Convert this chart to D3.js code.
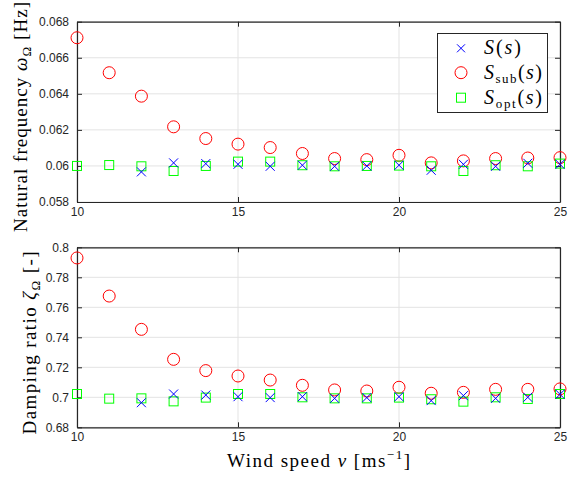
<!DOCTYPE html>
<html><head><meta charset="utf-8">
<script src="https://cdn.jsdelivr.net/npm/d3@7"></script>
<style>body{margin:0;background:#fff}svg{display:block}</style>
</head><body>
<svg id="c" width="585" height="481"></svg>
<script>
const windSpeed = [10,11,12,13,14,15,16,17,18,19,20,21,22,23,24,25];
const freqS    = [null,null,0.05967,0.06017,0.06013,0.06009,0.05998,0.06004,0.05998,0.0600,0.06004,0.05976,0.06009,0.05998,0.06015,0.06009];
const freqSub  = [0.06711,0.06517,0.06387,0.06217,0.06152,0.06121,0.06102,0.06069,0.06041,0.06035,0.06059,0.06017,0.06028,0.06041,0.06044,0.06046];
const freqOpt  = [0.0600,0.06005,0.05998,0.05972,0.0600,0.06024,0.06024,0.06004,0.05998,0.0600,0.06002,0.05998,0.05972,0.06004,0.05998,0.06013];
const dampS    = [null,null,0.6964,0.7022,0.7015,0.7004,0.6998,0.7004,0.6993,0.6998,0.7004,0.6978,0.7011,0.6993,0.7000,0.7020];
const dampSub  = [0.7929,0.7675,0.7453,0.7253,0.7178,0.7142,0.7115,0.7080,0.7049,0.7042,0.7067,0.7027,0.7033,0.7053,0.7053,0.7056];
const dampOpt  = [0.7022,0.6991,0.6993,0.6973,0.6998,0.7022,0.7022,0.7000,0.6993,0.6993,0.6998,0.6987,0.6971,0.7000,0.6989,0.7022];
const xTicks = [10,15,20,25];
const freqTicks = [0.058,0.06,0.062,0.064,0.066,0.068];
const dampTicks = [0.68,0.7,0.72,0.74,0.76,0.78,0.8];

const svg = d3.select("#c");
const L = 77, R = 560;
const x = d3.scaleLinear().domain([10,25]).range([L,R]);
const tickFont = "'Liberation Sans', Arial, sans-serif";
const serif = "'Liberation Serif', 'Times New Roman', serif";

function panel(top, bottom, domain, ticks, fmt, sets){
  const y = d3.scaleLinear().domain(domain).range([bottom, top]);
  const g = svg.append("g");
  g.selectAll(".gx").data(xTicks).join("line")
    .attr("x1", d=>x(d)).attr("x2", d=>x(d)).attr("y1", top).attr("y2", bottom)
    .attr("stroke", "#e3e3e3").attr("stroke-width", 1);
  g.selectAll(".gy").data(ticks).join("line")
    .attr("x1", L).attr("x2", R).attr("y1", d=>y(d)).attr("y2", d=>y(d))
    .attr("stroke", "#e3e3e3").attr("stroke-width", 1);
  const ax = g.append("g").attr("transform", `translate(0,${bottom})`)
    .call(d3.axisBottom(x).tickValues(xTicks).tickSizeInner(-5).tickSizeOuter(0).tickPadding(10).tickFormat(d3.format("d")));
  const axT = g.append("g").attr("transform", `translate(0,${top})`)
    .call(d3.axisTop(x).tickValues(xTicks).tickSizeInner(-5).tickSizeOuter(0).tickFormat(""));
  const ay = g.append("g").attr("transform", `translate(${L},0)`)
    .call(d3.axisLeft(y).tickValues(ticks).tickSizeInner(-5).tickSizeOuter(0).tickPadding(8).tickFormat(fmt));
  const ayR = g.append("g").attr("transform", `translate(${R},0)`)
    .call(d3.axisRight(y).tickValues(ticks).tickSizeInner(-5).tickSizeOuter(0).tickFormat(""));
  [ax,axT,ay,ayR].forEach(a=>{
    a.select(".domain").attr("stroke","#262626").attr("stroke-width",1.2);
    a.selectAll(".tick line").attr("stroke","#262626").attr("stroke-width",1);
    a.selectAll("text").attr("font-family", tickFont).attr("font-size", 12).attr("fill","#262626");
  });
  ax.selectAll("text").attr("dy","0.35em");
  const pts = arr => windSpeed.map((w,i)=>({w, v:arr[i]})).filter(d=>d.v!=null);
  g.selectAll(".c").data(pts(sets.sub)).join("circle")
    .attr("cx", d=>x(d.w)).attr("cy", d=>y(d.v)).attr("r", 6)
    .attr("fill","none").attr("stroke","#ff0000").attr("stroke-width",1);
  g.selectAll(".sq").data(pts(sets.opt)).join("rect")
    .attr("x", d=>x(d.w)-4.5).attr("y", d=>y(d.v)-4.5).attr("width",9).attr("height",9)
    .attr("fill","none").attr("stroke","#00ff00").attr("stroke-width",1);
  g.selectAll(".x").data(pts(sets.s)).join("path")
    .attr("d", d=>{const cx=x(d.w), cy=y(d.v), h=4.5; return `M${cx-h},${cy-h}L${cx+h},${cy+h}M${cx-h},${cy+h}L${cx+h},${cy-h}`;})
    .attr("fill","none").attr("stroke","#0000ff").attr("stroke-width",1);
  return y;
}

panel(21.7, 202, [0.058,0.068], freqTicks, d=> d===0.06 ? "0.06" : d3.format(".3f")(d), {s:freqS, sub:freqSub, opt:freqOpt});
panel(247.3, 427.3, [0.68,0.8], dampTicks, d=> (d===0.7||d===0.8) ? String(d) : d3.format(".2f")(d), {s:dampS, sub:dampSub, opt:dampOpt});

// Legend
const lg = svg.append("g");
lg.append("rect").attr("x",437.5).attr("y",33.5).attr("width",110).attr("height",79)
  .attr("fill","#fff").attr("stroke","#262626").attr("stroke-width",1);
const ly = [48.3, 72.7, 97.7];
const mx = 461;
lg.append("path").attr("d",`M${mx-4},${ly[0]-4}L${mx+4},${ly[0]+4}M${mx-4},${ly[0]+4}L${mx+4},${ly[0]-4}`)
  .attr("stroke","#0000ff").attr("fill","none");
lg.append("circle").attr("cx",mx).attr("cy",ly[1]).attr("r",6).attr("stroke","#ff0000").attr("fill","none");
lg.append("rect").attr("x",mx-4.5).attr("y",ly[2]-4.5).attr("width",9).attr("height",9).attr("stroke","#00ff00").attr("fill","none");
const subs = [null, "sub", "opt"];
const lw = [37, 58, 58];
subs.forEach((sb,i)=>{
  const t = lg.append("text").attr("x",484).attr("y",ly[i]+6).attr("font-family",serif).attr("font-size",20).attr("fill","#000")
    .attr("textLength", lw[i]).attr("lengthAdjust","spacing");
  t.append("tspan").attr("font-style","italic").text("S");
  if (sb) t.append("tspan").attr("font-size",13).attr("dy",4).text(sb);
  t.append("tspan").attr("dy", sb? -4 : 0).text("(");
  t.append("tspan").attr("font-style","italic").text("s");
  t.append("tspan").text(")");
});

// Y labels
function ylab(cx, cy, len, main, sym, unit){
  const t = svg.append("text").attr("transform",`translate(${cx},${cy}) rotate(-90)`)
    .attr("text-anchor","middle").attr("font-family",serif).attr("font-size",19).attr("fill","#000")
    .attr("textLength", len).attr("lengthAdjust","spacing");
  t.append("tspan").text(main+" ");
  t.append("tspan").attr("font-style","italic").text(sym);
  t.append("tspan").attr("font-size",13).attr("dy",4).text("Ω");
  t.append("tspan").attr("dy",-4).text(" "+unit);
}
ylab(27, 117, 230, "Natural frequency", "ω", "[Hz]");
ylab(36, 343, 183, "Damping ratio", "ζ", "[-]");

// X label
const xl = svg.append("text").attr("x",318.5).attr("y",467).attr("text-anchor","middle")
  .attr("font-family",serif).attr("font-size",19).attr("fill","#000")
  .attr("textLength", 183).attr("lengthAdjust","spacing");
xl.append("tspan").text("Wind speed ");
xl.append("tspan").attr("font-style","italic").text("v");
xl.append("tspan").text(" [ms");
xl.append("tspan").attr("font-size",13).attr("dy",-8).text("−1");
xl.append("tspan").attr("dy",8).text("]");
</script>
</body></html>
